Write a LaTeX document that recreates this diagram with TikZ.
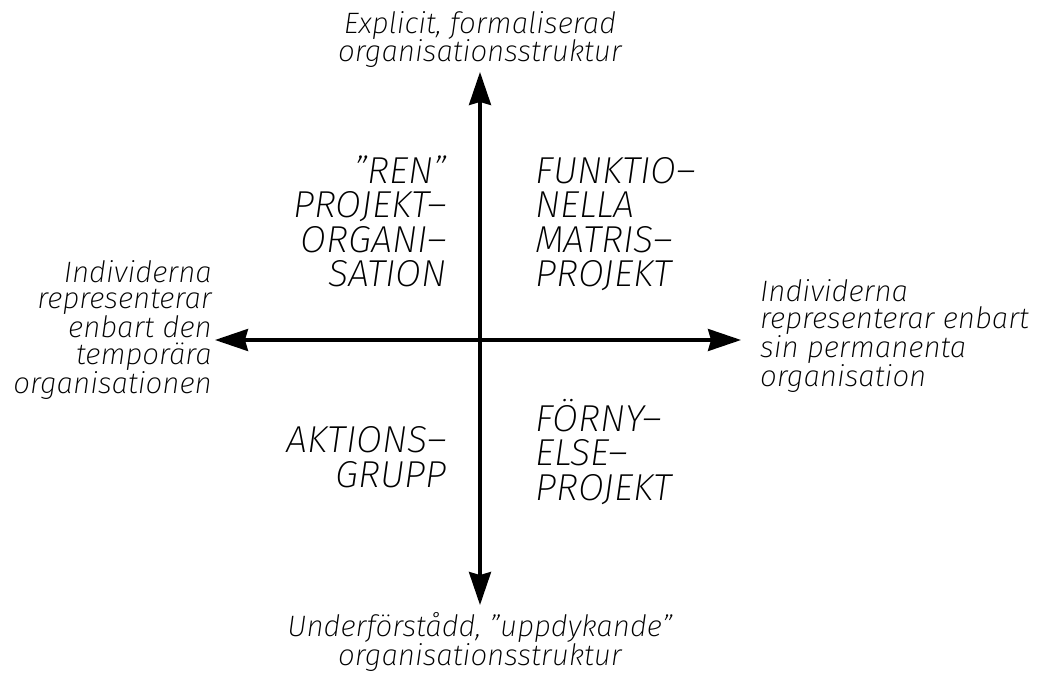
\documentclass[tikz,border=0pt]{standalone}
\usepackage{fontspec}
\setmainfont{Fira Sans}[UprightFont=* ExtraLight, ItalicFont=* ExtraLight Italic]
\usetikzlibrary{arrows.meta}

\tikzset{
  axis/.style={line width=3.2pt, {Stealth[length=33pt,width=22pt,inset=3pt]}-{Stealth[length=33pt,width=22pt,inset=3pt]}},
  pole/.style={inner sep=0pt, font=\itshape\fontsize{29.5}{26.5}\selectfont},
  kind/.style={inner sep=0pt, font=\itshape\fontsize{37.5}{34.5}\selectfont},
}

\begin{document}
\begin{tikzpicture}[x=1pt, y=-1pt]
  \useasboundingbox (0,0) rectangle (1039,676);

  % axis end points
  \coordinate (T) at (480,72);
  \coordinate (B) at (480,605);
  \coordinate (L) at (215,340);
  \coordinate (R) at (741,340);

  \draw[axis] (B) -- (T);
  \draw[axis] (L) -- (R);

  % pole labels (anchored on the baseline of their last line)
  \node[pole, align=center, anchor=base] (top) at (480,62)
    {Explicit, formaliserad\\organisationsstruktur};
  \node[pole, align=center, anchor=base] (bottom) at (480,665)
    {Underförstådd, "uppdykande"\\organisationsstruktur};
  \node[pole, align=right, anchor=base east] (left) at (212,393)
    {Individerna\\representerar\\enbart den\\temporära\\organisationen};
  \node[pole, align=left, anchor=base west] (right) at (760,386)
    {Individerna\\representerar enbart\\sin permanenta\\organisation};

  % quadrant labels
  \node[kind, align=right, anchor=base east] (q1) at (447,287)
    {"REN"\\PROJEKT–\\ORGANI–\\SATION};
  \node[kind, align=left, anchor=base west] (q2) at (535,287)
    {FUNKTIO–\\NELLA\\MATRIS–\\PROJEKT};
  \node[kind, align=right, anchor=base east] (q3) at (447,487)
    {AKTIONS–\\GRUPP};
  \node[kind, align=left, anchor=base west] (q4) at (535,500)
    {FÖRNY–\\ELSE–\\PROJEKT};
\end{tikzpicture}
\end{document}
